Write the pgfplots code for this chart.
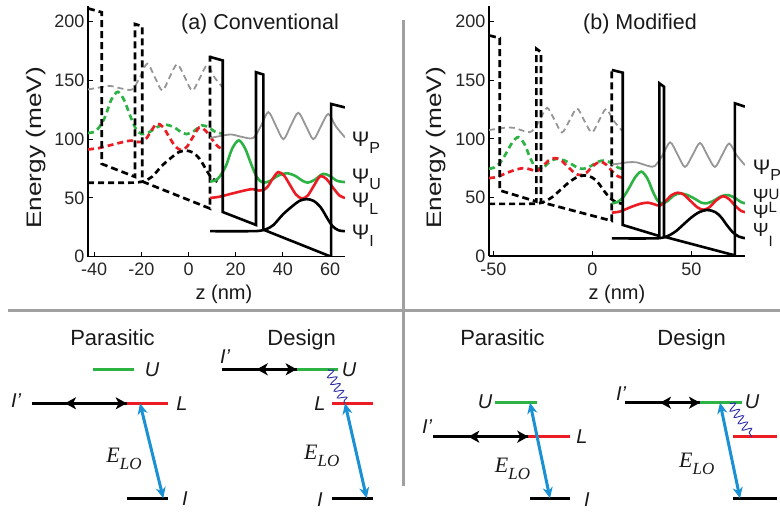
\documentclass[border=0pt]{standalone}
\usepackage{fontspec}
\setmainfont{Liberation Sans}
\newfontfamily\serifit{Liberation Serif}
\usepackage{graphicx}
\usepackage{pgfplots}
\pgfplotsset{compat=1.18}
\usetikzlibrary{arrows.meta,decorations.pathmorphing}

\definecolor{wfgreen}{RGB}{45,178,68}
\definecolor{wfred}{RGB}{236,28,36}
\definecolor{wfgray}{RGB}{150,150,150}
\definecolor{loblue}{RGB}{25,145,212}
\definecolor{snakeblue}{RGB}{45,45,165}
\definecolor{sepgray}{RGB}{160,160,160}

\newcommand{\fs}[1]{\fontsize{#1}{#1}\selectfont}
\newcommand{\ELO}{{\serifit\itshape\fs{22}E\raisebox{-7pt}{\fs{17}LO}}}

\pgfplotsset{
  bandax/.style={
    scale only axis, anchor=south west,
    axis x line*=bottom, axis y line*=left,
    axis line style={line width=1.2pt, black},
    tick align=inside, major tick length=5pt,
    tick style={line width=1.1pt, black},
    /pgf/number format/assume math mode=true,
    ticklabel style={font=\fs{18}, text=black!85},
    xticklabel style={yshift=-3pt},
    ymin=0, ytick={0,50,100,150,200},
  },
  cb/.style={black, line width=2.6pt},
  cbd/.style={black, line width=2.7pt, dash pattern=on 7pt off 4pt},
  wf/.style={line width=2.6pt, smooth},
  wfd/.style={line width=2.7pt, smooth, dash pattern=on 6pt off 4pt},
  lev/.style={line width=3.2pt},
  dbl/.style={black, line width=3pt, {Stealth[length=11pt,width=12pt,inset=3pt]}-{Stealth[length=11pt,width=12pt,inset=3pt]}},
  lo/.style={loblue, line width=3pt, {Stealth[length=11pt,width=10pt]}-{Stealth[length=11pt,width=10pt]}},
  wig/.style={snakeblue, line width=0.9pt, decorate, decoration={snake, amplitude=4.5pt, segment length=7.5pt, pre length=1pt, post length=1pt}},
}

\begin{document}
\begin{tikzpicture}[x=1pt,y=1pt]
\path[use as bounding box] (0pt,0pt) rectangle (780pt,513pt);

% overlay in picture pixels (y downwards): separators, schemes, texts
\begin{axis}[at={(0pt,0pt)}, anchor=south west, scale only axis,
  width=780pt, height=513pt, xmin=0, xmax=780, ymin=0, ymax=513,
  y dir=reverse, hide axis, clip=false]
\addplot[sepgray, line width=3pt] coordinates {(8,310.7) (780,310.7)};
\addplot[sepgray, line width=3pt] coordinates {(403.3,20) (403.3,486)};

% (a) parasitic
\addplot[lev, wfgreen] coordinates {(92.7,369.3) (134.3,369.3)};
\addplot[lev, black] coordinates {(31.7,403.3) (126.7,403.3)};
\addplot[lev, wfred] coordinates {(126.7,403.3) (168.3,403.3)};
\addplot[lev, black] coordinates {(126.7,498.3) (168.3,498.3)};
\addplot[dbl] coordinates {(65,403.3) (126.7,403.3)};
\addplot[lo] coordinates {(140,403.3) (163.3,498.3)};
% (a) design
\addplot[lev, black] coordinates {(221.7,369.3) (296.7,369.3)};
\addplot[lev, wfgreen] coordinates {(296.7,369.3) (338.3,369.3)};
\addplot[lev, wfred] coordinates {(331.7,403.3) (373.3,403.3)};
\addplot[lev, black] coordinates {(331.7,498.3) (373.3,498.3)};
\addplot[dbl] coordinates {(256.7,369.3) (296.7,369.3)};
\addplot[wig] coordinates {(328.3,369.3) (345,403.3)};
\addplot[lo] coordinates {(345,403.3) (366.7,498.3)};
% (b) parasitic
\addplot[lev, wfgreen] coordinates {(495,402.7) (536.7,402.7)};
\addplot[lev, black] coordinates {(433.3,436.7) (528.3,436.7)};
\addplot[lev, wfred] coordinates {(528.3,436.7) (570,436.7)};
\addplot[lev, black] coordinates {(530,498.3) (570,498.3)};
\addplot[dbl] coordinates {(468.3,436.7) (528.3,436.7)};
\addplot[lo] coordinates {(530,402.7) (550,498.3)};
% (b) design
\addplot[lev, black] coordinates {(625,402.7) (700,402.7)};
\addplot[lev, wfgreen] coordinates {(700,402.7) (741.7,402.7)};
\addplot[lev, wfred] coordinates {(733.3,436.7) (776.7,436.7)};
\addplot[lev, black] coordinates {(733.3,498.3) (776.7,498.3)};
\addplot[dbl] coordinates {(660,402.7) (700,402.7)};
\addplot[wig] coordinates {(730,402.7) (751.7,436.7)};
\addplot[lo] coordinates {(720,402.7) (740,498.3)};

\begin{scope}[every node/.style={inner sep=0pt, text=black!90}]
\node[anchor=base, font=\fs{22}] at (axis cs:112.5,345) {Parasitic};
\node[anchor=base, font=\fs{22}] at (axis cs:301.7,345) {Design};
\node[anchor=base, font=\fs{22}] at (axis cs:502.5,345) {Parasitic};
\node[anchor=base, font=\fs{22}] at (axis cs:691.7,345) {Design};
\node[font=\fs{20}\itshape] at (axis cs:152,369.3) {U};
\node[font=\fs{20}\itshape] at (axis cs:16,401) {I’};
\node[font=\fs{20}\itshape] at (axis cs:182,403.3) {L};
\node[font=\fs{20}\itshape] at (axis cs:185,498.3) {I};
\node at (axis cs:124,459) {\ELO};
\node[font=\fs{20}\itshape] at (axis cs:225,356.7) {I’};
\node[font=\fs{20}\itshape] at (axis cs:349,369.3) {U};
\node[font=\fs{20}\itshape] at (axis cs:320,403.3) {L};
\node[font=\fs{20}\itshape] at (axis cs:320,500) {I};
\node at (axis cs:321.7,456) {\ELO};
\node[font=\fs{20}\itshape] at (axis cs:485,402) {U};
\node[font=\fs{20}\itshape] at (axis cs:427,426.7) {I’};
\node[font=\fs{20}\itshape] at (axis cs:582,437) {L};
\node[font=\fs{20}\itshape] at (axis cs:587,500) {I};
\node at (axis cs:512.5,469) {\ELO};
\node[font=\fs{20}\itshape] at (axis cs:621,393.3) {I’};
\node[font=\fs{20}\itshape] at (axis cs:752,402) {U};
\node at (axis cs:696.7,464) {\ELO};
% titles and axis labels
\node[anchor=base, font=\fs{21.5}] at (axis cs:260,29.3) {(a) Conventional};
\node[anchor=base, font=\fs{21.5}] at (axis cs:640,29.3) {(b) Modified};
\node[anchor=base, font=\fs{20}] at (axis cs:224,300) {z (nm)};
\node[anchor=base, font=\fs{20}] at (axis cs:617,300) {z (nm)};
\node[rotate=90, font=\fs{21}] at (axis cs:36,148) {\scalebox{1.25}[1]{Energy (meV)}};
\node[rotate=90, font=\fs{21}] at (axis cs:436,148) {\scalebox{1.25}[1]{Energy (meV)}};
% psi labels (a)
\node[anchor=base west, font=\fs{21}] at (axis cs:351.7,146.7) {Ψ\raisebox{-6.7pt}{\fs{16}P}};
\node[anchor=base west, font=\fs{21}] at (axis cs:351.7,183.3) {Ψ\raisebox{-6.7pt}{\fs{16}U}};
\node[anchor=base west, font=\fs{21}] at (axis cs:351.7,208) {Ψ\raisebox{-6.7pt}{\fs{16}L}};
\node[anchor=base west, font=\fs{21}] at (axis cs:351.7,240) {Ψ\raisebox{-6.7pt}{\fs{16}I}};
% psi labels (b), crowded as in the original
\node[anchor=base west, font=\fs{21}] at (axis cs:752.7,175) {Ψ\raisebox{-5.5pt}{\fs{16}P}};
\node[anchor=base west, font=\fs{19}] at (axis cs:752.7,202.5) {Ψ};
\node[anchor=base west, font=\fs{15}] at (axis cs:768.5,200) {U};
\node[anchor=base west, font=\fs{19}] at (axis cs:752.7,218.5) {Ψ};
\node[anchor=base west, font=\fs{15}] at (axis cs:768.5,213) {L};
\node[anchor=base west, font=\fs{19}] at (axis cs:752.7,236.5) {Ψ};
\node[anchor=base west, font=\fs{15}] at (axis cs:768.5,247) {I};
\end{scope}
\end{axis}

% (a) Conventional
\begin{axis}[bandax, at={(88pt,256.3pt)}, width=257pt, height=251pt,
  xmin=-42.6, xmax=66.3, ymax=213.6, xtick={-40,-20,0,20,40,60}]
\addplot[wfd, wfgray, line width=1.8pt] coordinates {(-42.6,142.3) (-38.3,143.8) (-33.3,145.3) (-28.8,143.3) (-23.9,142.3) (-20.7,152.3) (-17.5,164.3) (-14.3,152.8) (-11.1,141.3) (-8,152.8) (-4.8,163.8) (-1.6,152.8) (1.6,141.3) (4.7,151.8) (7.9,162.8) (11.1,152.3) (15,142.8)};
\addplot[wfd, wfgreen] coordinates {(-42.6,105.3) (-39.8,106.3) (-37.8,110.3) (-35.3,119.3) (-32.8,133.3) (-30,140.3) (-27.3,133.3) (-24.8,120.3) (-22.3,108.8) (-19.8,104.3) (-16.8,105.8) (-13.3,110.3) (-9.8,112.3) (-6.3,110.3) (-3.3,106.3) (-0.8,104.3) (2.2,106.8) (5.7,111.8) (8.7,109.8) (11.7,105.8) (15,104.8)};
\addplot[wfd, wfred] coordinates {(-42.6,91.3) (-38.3,92.3) (-33.3,94.8) (-28.3,97.3) (-24.3,98.8) (-21.5,97.6) (-19.8,97.8) (-17.8,100.8) (-15.6,107.8) (-13.3,113.3) (-10.8,110.3) (-8.3,102.3) (-5.8,94.3) (-3.3,90.8) (-0.8,93.3) (1.7,101.3) (4.5,109.8) (7.2,107.3) (10.2,99.3) (12.7,93.3) (15,91.3)};
\addplot[wfd, black] coordinates {(-42.6,63) (-25.3,63) (-21.3,63.3) (-18.3,64.8) (-15.3,68.3) (-11.3,77.3) (-7.3,84.3) (-4.3,88.8) (-1.3,90.3) (1.7,88.8) (4.7,83.3) (7.7,73.3) (9.7,67.3) (12.2,63.8)};
\addplot[cbd] coordinates {(-42.6,211.3) (-36.8,208) (-36.8,79) (-22.7,68) (-22.7,198) (-19.6,196) (-19.6,64) (9.1,41) (9.1,171)};
\addplot[wf, wfgray, line width=1.8pt] coordinates {(9.1,101) (13,102.5) (18,104) (22.5,102) (27.4,101) (30.6,111) (33.8,123) (37,111.5) (40.2,100) (43.3,111.5) (46.5,122.5) (49.7,111.5) (52.9,100) (56,110.5) (59.2,121.5) (62.4,111) (66.3,101.5)};
\addplot[wf, wfgreen] coordinates {(9.1,64) (11.5,65) (13.5,69) (16,78) (18.5,92) (21.3,99) (24,92) (26.5,79) (29,67.5) (31.5,63) (34.5,64.5) (38,69) (41.5,71) (45,69) (48,65) (50.5,63) (53.5,65.5) (57,70.5) (60,68.5) (63,64.5) (66.3,63.5)};
\addplot[wf, wfred] coordinates {(9.1,50) (13,51) (18,53.5) (23,56) (27,57.5) (29.8,56.3) (31.5,56.5) (33.5,59.5) (35.7,66.5) (38,72) (40.5,69) (43,61) (45.5,53) (48,49.5) (50.5,52) (53,60) (55.8,68.5) (58.5,66) (61.5,58) (64,52) (66.3,50)};
\addplot[wf, black] coordinates {(9.1,21.7) (26,21.7) (30,22) (33,23.5) (36,27) (40,36) (44,43) (47,47.5) (50,49) (53,47.5) (56,42) (59,32) (61,26) (63.5,22.5) (66.3,21.7)};
\addplot[cb] coordinates {(9.1,170) (14.5,167) (14.5,38) (28.6,27) (28.6,157) (31.7,155) (31.7,23) (60.4,0) (60.4,130) (66.3,127)};
\end{axis}

% (b) Modified
\begin{axis}[bandax, at={(489pt,257pt)}, width=256pt, height=250pt,
  xmin=-52.2, xmax=77, ymax=213.4, xtick={-50,0,50}]
\addplot[wfd, wfgray, line width=1.8pt] coordinates {(-52.2,107.5) (-48.1,108.5) (-44.1,109.5) (-40.1,109.5) (-36.1,107.5) (-33.1,106) (-30.5,106.5) (-26.7,115.5) (-22.9,126.5) (-19.1,116) (-15.4,105.5) (-11.6,115.5) (-7.8,126) (-4.1,115.5) (-0.3,105.5) (3.3,115.5) (6.9,125.5) (10.7,115.5) (14.9,107)};
\addplot[wfd, wfgreen] coordinates {(-52.2,74.5) (-49.6,75.5) (-46.6,79.5) (-43.6,87.5) (-40.6,96.5) (-37.4,101.5) (-34.3,95.5) (-31.6,84.5) (-29.1,76.5) (-26.6,74.5) (-24.1,76.5) (-21.1,81) (-17.9,83) (-14.1,81.5) (-10.1,78) (-7.1,75) (-4.4,74.5) (-1.1,76.5) (2.9,80.5) (6.4,81.5) (9.9,79) (12.9,75.5) (14.9,74.5)};
\addplot[wfd, wfred] coordinates {(-52.2,66.5) (-48.1,67.5) (-43.1,71) (-38.1,74) (-34.1,75) (-30.6,73.5) (-28.1,72.5) (-25.1,76.5) (-22.1,81.5) (-19.1,83.5) (-16.1,82) (-12.6,76.5) (-9.1,71) (-6.1,69) (-3.1,71) (0.4,77) (3.9,80.5) (6.9,78) (9.9,72.5) (12.9,68) (14.9,67)};
\addplot[wfd, black] coordinates {(-52.2,44.5) (-32.1,44.5) (-27.1,45) (-24.1,46.5) (-20.1,50.5) (-16.1,56.5) (-12.1,62.5) (-8.1,67) (-4.1,68.8) (-0.1,67) (2.9,62.5) (5.9,55.5) (8.9,49.5) (11.9,46) (14.9,44.7)};
\addplot[cbd] coordinates {(-52.2,188.3) (-46.8,186) (-46.8,56) (-28.3,46.5) (-28.3,176.9) (-26,174) (-26,46) (9.8,30) (9.8,159.8)};
\addplot[wf, wfgray, line width=1.8pt] coordinates {(9.8,78) (14,79) (18,80) (22,80) (26,78) (29,76.5) (31.6,77) (35.4,86) (39.2,97) (43,86.5) (46.7,76) (50.5,86) (54.3,96.5) (58,86) (61.8,76) (65.4,86) (69,96) (72.8,86) (77,77.5)};
\addplot[wf, wfgreen] coordinates {(9.8,45) (12.5,46) (15.5,50) (18.5,58) (21.5,67) (24.7,72) (27.8,66) (30.5,55) (33,47) (35.5,45) (38,47) (41,51.5) (44.2,53.5) (48,52) (52,48.5) (55,45.5) (57.7,45) (61,47) (65,51) (68.5,52) (72,49.5) (75,46) (77,45)};
\addplot[wf, wfred] coordinates {(9.8,37) (14,38) (19,41.5) (24,44.5) (28,45.5) (31.5,44) (34,43) (37,47) (40,52) (43,54) (46,52.5) (49.5,47) (53,41.5) (56,39.5) (59,41.5) (62.5,47.5) (66,51) (69,48.5) (72,43) (75,38.5) (77,37.5)};
\addplot[wf, black] coordinates {(9.8,15) (30,15) (35,15.5) (38,17) (42,21) (46,27) (50,33) (54,37.5) (58,39.3) (62,37.5) (65,33) (68,26) (71,20) (74,16.5) (77,15.2)};
\addplot[cb] coordinates {(9.8,158.8) (15.3,156.5) (15.3,26.5) (33.8,17) (33.8,147.4) (36.1,144.5) (36.1,16.5) (71.9,0.5) (71.9,130.3) (77,127.5)};
\end{axis}
\end{tikzpicture}
\end{document}
